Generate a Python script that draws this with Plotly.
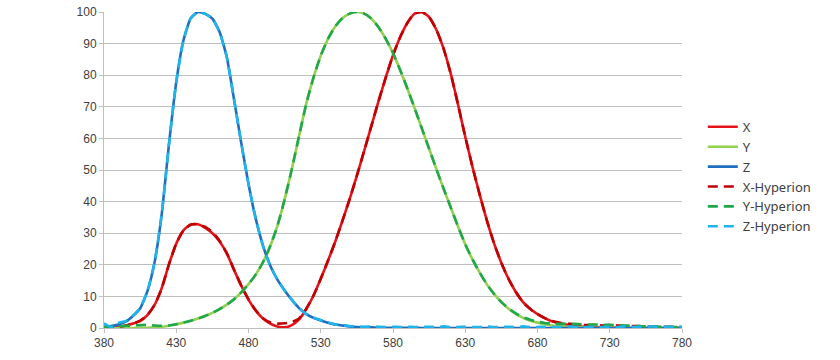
import plotly.graph_objects as go

wavelength = list(range(380, 785, 5))

x_cie = [0.1, 0.2, 0.4, 0.7, 1.4, 2.2, 4.1, 7.3, 12.7, 20.2,
         26.7, 30.9, 32.8, 32.8, 31.7, 30.0, 27.4, 23.6, 18.4, 13.4,
         9.0, 5.5, 3.0, 1.4, 0.5, 0.2, 0.9, 2.7, 6.0, 10.3,
         15.6, 21.3, 27.3, 33.9, 40.8, 48.2, 56.0, 63.9, 71.8, 79.3,
         86.3, 92.1, 96.6, 99.5, 100.0, 98.4, 94.4, 88.4, 80.4, 70.7,
         60.5, 51.0, 42.2, 34.0, 26.7, 20.6, 15.5, 11.4, 8.2, 6.0,
         4.4, 3.1, 2.1, 1.5, 1.1, 0.8, 0.5, 0.4, 0.3, 0.2,
         0.1, 0.1, 0.1, 0.0, 0.0, 0.0, 0.0, 0.0, 0.0, 0.0, 0.0]

y_cie = [0.0, 0.0, 0.0, 0.0, 0.0, 0.1, 0.1, 0.2, 0.4, 0.7,
         1.2, 1.7, 2.3, 3.0, 3.8, 4.8, 6.0, 7.4, 9.1, 11.3,
         13.9, 16.9, 20.8, 25.9, 32.3, 40.7, 50.3, 60.8, 71.0, 79.3,
         86.2, 91.5, 95.4, 98.0, 99.5, 100.0, 99.5, 97.9, 95.2, 91.5,
         87.0, 81.6, 75.7, 69.5, 63.1, 56.7, 50.3, 44.1, 38.1, 32.1,
         26.5, 21.7, 17.5, 13.8, 10.7, 8.2, 6.1, 4.5, 3.2, 2.3,
         1.7, 1.2, 0.8, 0.6, 0.4, 0.3, 0.2, 0.2, 0.1, 0.1,
         0.1, 0.0, 0.0, 0.0, 0.0, 0.0, 0.0, 0.0, 0.0, 0.0, 0.0]

z_cie = [0.4, 0.6, 1.1, 2.0, 3.8, 6.2, 11.6, 20.8, 36.2, 58.3,
         77.8, 91.1, 98.0, 100.0, 99.4, 97.9, 93.7, 85.7, 72.3, 58.5,
         45.6, 34.6, 26.1, 19.8, 15.3, 11.9, 8.9, 6.3, 4.4, 3.2,
         2.4, 1.7, 1.1, 0.8, 0.5, 0.3, 0.2, 0.2, 0.1, 0.1,
         0.1, 0.1, 0.1, 0.1, 0.0, 0.0, 0.0, 0.0, 0.0, 0.0,
         0.0, 0.0, 0.0, 0.0, 0.0, 0.0, 0.0, 0.0, 0.0, 0.0,
         0.0, 0.0, 0.0, 0.0, 0.0, 0.0, 0.0, 0.0, 0.0, 0.0,
         0.0, 0.0, 0.0, 0.0, 0.0, 0.0, 0.0, 0.0, 0.0, 0.0, 0.0]

x_hyperion = [0.2, 0.2, 0.4, 0.8, 1.4, 2.3, 4.1, 7.3, 12.6, 20.2,
              26.7, 30.9, 32.7, 32.9, 32.0, 30.4, 27.6, 23.6, 18.4, 13.4,
              9.1, 5.6, 3.1, 1.8, 1.4, 1.5, 1.9, 3.0, 6.1, 10.3,
              15.6, 21.3, 27.3, 33.9, 40.8, 48.2, 56.0, 63.9, 71.8, 79.3,
              86.3, 92.1, 96.6, 99.5, 100.0, 98.4, 94.4, 88.4, 80.4, 70.7,
              60.5, 51.0, 42.2, 34.0, 26.7, 20.6, 15.5, 11.4, 8.2, 6.0,
              4.4, 3.1, 2.2, 1.7, 1.4, 1.2, 1.0, 0.9, 0.9, 0.8,
              0.9, 0.8, 0.7, 0.6, 0.6, 0.5, 0.5, 0.4, 0.4, 0.3, 0.3]

y_hyperion = [0.3, 0.3, 0.5, 0.7, 0.8, 0.9, 1.0, 0.8, 0.7, 0.8,
              1.2, 1.7, 2.3, 3.0, 3.8, 4.8, 6.0, 7.4, 9.1, 11.3,
              13.9, 16.9, 20.8, 25.9, 32.3, 40.7, 50.3, 60.8, 71.0, 79.3,
              86.2, 91.5, 95.4, 98.0, 99.5, 100.0, 99.5, 97.9, 95.2, 91.5,
              87.0, 81.6, 75.7, 69.5, 63.1, 56.7, 50.3, 44.1, 38.1, 32.1,
              26.5, 21.7, 17.5, 13.8, 10.7, 8.2, 6.2, 4.6, 3.4, 2.6,
              2.0, 1.6, 1.4, 1.3, 1.3, 1.3, 1.2, 1.1, 1.1, 1.0,
              1.0, 0.9, 0.8, 0.7, 0.6, 0.5, 0.5, 0.4, 0.4, 0.3, 0.3]

z_hyperion = [1.5, 0.3, 1.6, 2.2, 3.9, 6.3, 11.6, 20.8, 36.2, 58.3,
              77.8, 91.1, 98.0, 100.0, 99.4, 97.9, 93.7, 85.7, 72.3, 58.5,
              45.6, 34.6, 26.1, 19.8, 15.3, 11.9, 8.9, 6.3, 4.4, 3.3,
              2.5, 1.8, 1.2, 0.9, 0.6, 0.5, 0.4, 0.5, 0.4, 0.3,
              0.4, 0.3, 0.4, 0.3, 0.3, 0.4, 0.3, 0.5, 0.3, 0.3,
              0.4, 0.3, 0.3, 0.5, 0.3, 0.3, 0.4, 0.3, 0.5, 0.3,
              0.3, 0.4, 0.3, 0.3, 0.5, 0.4, 0.3, 0.3, 0.5, 0.3,
              0.4, 0.3, 0.5, 0.4, 0.3, 0.4, 0.5, 0.3, 0.4, 0.3, 0.4]

series_names = ["X", "Y", "Z", "X-Hyperion", "Y-Hyperion", "Z-Hyperion"]
series_values = [x_cie, y_cie, z_cie, x_hyperion, y_hyperion, z_hyperion]
series_colors = ["#e3141c", "#92d050", "#1f6ebf", "#c00000", "#1fa84a", "#1fb4ea"]
series_dash = ["solid", "solid", "solid", "10px,6px", "10px,6px", "10px,6px"]

x_ticks = [380, 430, 480, 530, 580, 630, 680, 730, 780]
y_ticks = [0, 10, 20, 30, 40, 50, 60, 70, 80, 90, 100]

fig = go.Figure()
for name, vals, col, dash in zip(series_names, series_values, series_colors, series_dash):
    fig.add_trace(go.Scatter(
        x=wavelength, y=vals, name=name, mode="lines",
        line=dict(color=col, width=2.6, dash=dash, shape="spline", smoothing=0.5),
    ))

fig.update_layout(
    width=840, height=360,
    margin=dict(l=104, r=158, t=12, b=32, autoexpand=False),
    paper_bgcolor="white", plot_bgcolor="white",
    font=dict(family="Liberation Sans, Arial, sans-serif", size=12, color="#404040"),
    showlegend=True,
    legend=dict(
        x=1.036, xanchor="left", y=0.684, yanchor="top",
        font=dict(family="Noto Sans, Lato, sans-serif", size=13, color="#404040"),
        bgcolor="rgba(0,0,0,0)", tracegroupgap=0,
    ),
    xaxis=dict(
        range=[380, 780], tickvals=x_ticks, ticktext=[str(t) for t in x_ticks],
        showgrid=False, zeroline=False, automargin=False,
        showline=True, linecolor="#bfbfbf", linewidth=1,
        ticks="outside", ticklen=4, tickcolor="#bfbfbf",
        tickfont=dict(size=12, color="#404040"),
    ),
    yaxis=dict(
        range=[0, 100], tickvals=y_ticks, automargin=False,
        showgrid=True, gridcolor="#bfbfbf", gridwidth=1, zeroline=False,
        showline=True, linecolor="#bfbfbf", linewidth=1,
        ticks="outside", ticklen=4, tickcolor="#bfbfbf",
        tickfont=dict(size=12, color="#404040"),
    ),
)

fig.write_html(
    "out.html",
    config={"displayModeBar": False},
    post_script="document.body.style.margin='0';document.body.style.overflow='hidden';",
)
